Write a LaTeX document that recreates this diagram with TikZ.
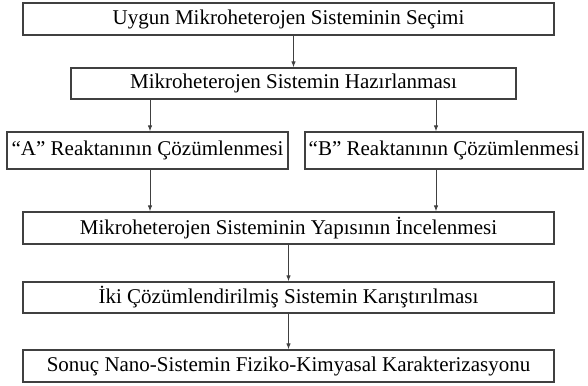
\documentclass[tikz,border=0pt]{standalone}
\usepackage{fontspec}
\setmainfont{Liberation Serif}
\usetikzlibrary{arrows.meta}
\tikzstyle{kutu}=[draw=black!75,line width=1.3pt,inner sep=0pt,font=\fontsize{21}{25}\selectfont]
\tikzstyle{ok}=[draw=black!75,line width=0.9pt,-{Latex[length=6pt,width=4.5pt]}]

\begin{document}
\begin{tikzpicture}[x=1pt,y=-1pt]
      \useasboundingbox (0,0) rectangle (588,385);
      \node [kutu,minimum width=531pt,minimum height=32pt] (secim) at (288.5,19)
            {Uygun Mikroheterojen Sisteminin Seçimi};
      \node [kutu,minimum width=445pt,minimum height=31pt] (hazir) at (293.5,83.5)
            {Mikroheterojen Sistemin Hazırlanması};
      \node [kutu,minimum width=281pt,minimum height=37pt] (reakA) at (147.5,150.5)
            {“A” Reaktanının Çözümlenmesi};
      \node [kutu,minimum width=278pt,minimum height=37pt] (reakB) at (444,150.5)
            {“B” Reaktanının Çözümlenmesi};
      \node [kutu,minimum width=531pt,minimum height=32pt] (yapi) at (288.5,228)
            {Mikroheterojen Sisteminin Yapısının İncelenmesi};
      \node [kutu,minimum width=531pt,minimum height=31pt] (karis) at (288.5,297.5)
            {İki Çözümlendirilmiş Sistemin Karıştırılması};
      \node [kutu,minimum width=531pt,minimum height=32pt] (sonuc) at (288.5,366)
            {Sonuç Nano-Sistemin Fiziko-Kimyasal Karakterizasyonu};
      % iki kolun ok hizalari
      \coordinate (solx) at (150,0);
      \coordinate (sagx) at (436,0);
      \draw [ok] (secim.south -| hazir.north) -- (hazir.north);
      \draw [ok] (hazir.south -| solx) -- (reakA.north -| solx);
      \draw [ok] (hazir.south -| sagx) -- (reakB.north -| sagx);
      \draw [ok] (reakA.south -| solx) -- (yapi.north -| solx);
      \draw [ok] (reakB.south -| sagx) -- (yapi.north -| sagx);
      \draw [ok] (yapi) -- (karis);
      \draw [ok] (karis) -- (sonuc);
\end{tikzpicture}
\end{document}
